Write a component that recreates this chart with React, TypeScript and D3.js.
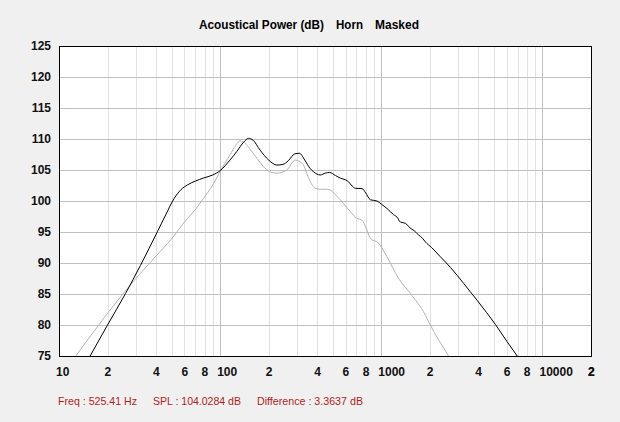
import React from "react";
import * as d3 from "d3";

const mainFreq = [14, 15.6, 20, 25.9, 32, 40.8, 46, 51.8, 57, 62.7, 70, 78.7, 90, 100, 115, 127, 140, 150, 160, 177, 200, 225, 245, 265, 290, 310, 335, 360, 380, 418, 450, 478, 520, 556, 600, 626, 660, 690, 759, 800, 855, 940, 1000, 1084, 1190, 1252, 1312, 1413, 1500, 1600, 1706, 1800, 1877, 2050, 2326, 2683, 3245, 3926, 4500, 5100, 6035, 6968, 8000];
const mainDb = [72.8, 75, 80, 85.1, 89.6, 95.05, 97.8, 100.4, 101.8, 102.6, 103.2, 103.7, 104.2, 104.9, 106.6, 108.0, 109.5, 110.1, 109.8, 108.2, 106.6, 105.8, 105.9, 106.5, 107.6, 107.7, 106.6, 105.3, 104.7, 104.2, 104.5, 104.6, 104.1, 103.7, 103.4, 103.1, 102.4, 102.05, 102.0, 101.3, 100.2, 100.0, 99.5, 98.8, 97.8, 97.4, 96.6, 96.4, 95.7, 95.2, 94.5, 94.0, 93.4, 92.5, 91.0, 89.3, 86.7, 84.0, 82.0, 80.1, 77.3, 75, 72.8];

const maskedFreq = [10, 12.8, 18.6, 27.2, 39.9, 50, 60, 70, 78.7, 90, 100, 115, 125, 133, 143, 155, 169, 185, 204, 225, 259, 292, 310, 329, 350, 370, 389, 420, 460, 480, 520, 556, 600, 641, 706, 759, 800, 855, 962, 1084, 1281, 1514, 1877, 2014, 2268, 2583, 2800];
const maskedDb = [71.3, 75.1, 80.8, 86.2, 91.1, 93.9, 96.6, 98.6, 100.4, 102.6, 104.8, 107.4, 109.0, 109.7, 109.3, 108.2, 106.9, 105.6, 104.7, 104.5, 105.0, 106.6, 106.4, 105.8, 104.0, 102.7, 102.05, 101.9, 101.9, 101.8, 101.0, 100.2, 99.2, 98.3, 97.2, 96.9, 95.8, 94.0, 93.2, 91.0, 87.5, 85.1, 81.6, 80.0, 77.6, 75.2, 73.5];

const yTicks = [75, 80, 85, 90, 95, 100, 105, 110, 115, 120, 125];
const decades = [10, 100, 1000, 10000];
const multipliers = [1, 2, 3, 4, 5, 6, 7, 8, 9];
const labeledMultipliers = [1, 2, 4, 6, 8];
const titleParts = ["Acoustical Power (dB)", "Horn", "Masked"];
const footerParts = ["Freq : 525.41 Hz", "SPL : 104.0284 dB", "Difference : 3.3637 dB"];

export default function App() {
  const W = 620, H = 422;
  const L = 59, R = 591, T = 46, B = 356;
  const x = d3.scaleLog().domain([10, 20000]).range([L, R]);
  const y = d3.scaleLinear().domain([75, 125]).range([B, T]);

  const gridVals: { v: number; major: boolean }[] = [];
  decades.forEach((d) => multipliers.forEach((m) => {
    const v = d * m;
    if (v <= 20000 && v > 10) gridVals.push({ v, major: m === 1 });
  }));
  const tickLabels: { v: number; t: string }[] = [];
  decades.forEach((d) => labeledMultipliers.forEach((m) => {
    const v = d * m;
    if (v <= 20000) tickLabels.push({ v, t: m === 1 ? String(d) : String(m) });
  }));
  tickLabels.push({ v: 20000, t: "2" });

  const line = d3.line<[number, number]>()
    .x((d) => x(d[0]))
    .y((d) => y(d[1]))
    .curve(d3.curveMonotoneX);
  const mainPath = line(mainFreq.map((f, i) => [f, mainDb[i]] as [number, number])) || "";
  const maskedPath = line(maskedFreq.map((f, i) => [f, maskedDb[i]] as [number, number])) || "";

  const tickFont = "'Liberation Sans', Arial, sans-serif";
  const titleX = [199, 336, 375];
  const titleW = [125, 27, 44];
  const footX = [58, 153, 257];
  const footW = [79, 88, 106];

  return (
    <svg width={W} height={H} style={{ position: "absolute", left: 0, top: 0, display: "block" }}>
      <rect x={0} y={0} width={W} height={H} fill="#f0f0f0" />
      <defs>
        <clipPath id="plotclip">
          <rect x={L} y={T} width={R - L} height={B - T} />
        </clipPath>
      </defs>
      <rect x={L} y={T} width={R - L} height={B - T} fill="#ffffff" />
      {gridVals.filter((g) => !g.major).map((g, i) => (
        <line key={"mg" + i} x1={Math.round(x(g.v)) + 0.5} x2={Math.round(x(g.v)) + 0.5} y1={T} y2={B} stroke="#e2e2e2" strokeWidth={1} />
      ))}
      {gridVals.filter((g) => g.major).map((g, i) => (
        <line key={"Mg" + i} x1={Math.round(x(g.v)) + 0.5} x2={Math.round(x(g.v)) + 0.5} y1={T} y2={B} stroke="#c0c0c0" strokeWidth={1} />
      ))}
      {yTicks.map((t) => (
        <line key={"hy" + t} x1={L} x2={R} y1={Math.round(y(t)) + 0.5} y2={Math.round(y(t)) + 0.5} stroke="#c0c0c0" strokeWidth={1} />
      ))}
      <g clipPath="url(#plotclip)">
        <path d={maskedPath} fill="none" stroke="#b4b4b4" strokeWidth={1} />
        <path d={mainPath} fill="none" stroke="#000000" strokeWidth={1} />
      </g>
      <rect x={L + 0.5} y={T + 0.5} width={R - L} height={B - T} fill="none" stroke="#000000" strokeWidth={1} />
      {yTicks.map((t) => (
        <text key={"yl" + t} x={51} y={y(t) + 4} textAnchor="end" fontFamily={tickFont} fontWeight="bold" fontSize={12} fill="#111">{t}</text>
      ))}
      {tickLabels.map((t, i) => (
        <text key={"xl" + i} x={x(t.v) - 3} y={376} textAnchor="start" fontFamily={tickFont} fontWeight="bold" fontSize={12} fill="#111">{t.t}</text>
      ))}
      {titleParts.map((s, i) => (
        <text key={"tt" + i} x={titleX[i]} y={29} fontFamily={tickFont} fontWeight="bold" fontSize={12} fill="#000" textLength={titleW[i]} lengthAdjust="spacingAndGlyphs">{s}</text>
      ))}
      {footerParts.map((s, i) => (
        <text key={"ft" + i} x={footX[i]} y={405} fontFamily={tickFont} fontSize={11} fill="#b01c1c" textLength={footW[i]} lengthAdjust="spacingAndGlyphs">{s}</text>
      ))}
    </svg>
  );
}
